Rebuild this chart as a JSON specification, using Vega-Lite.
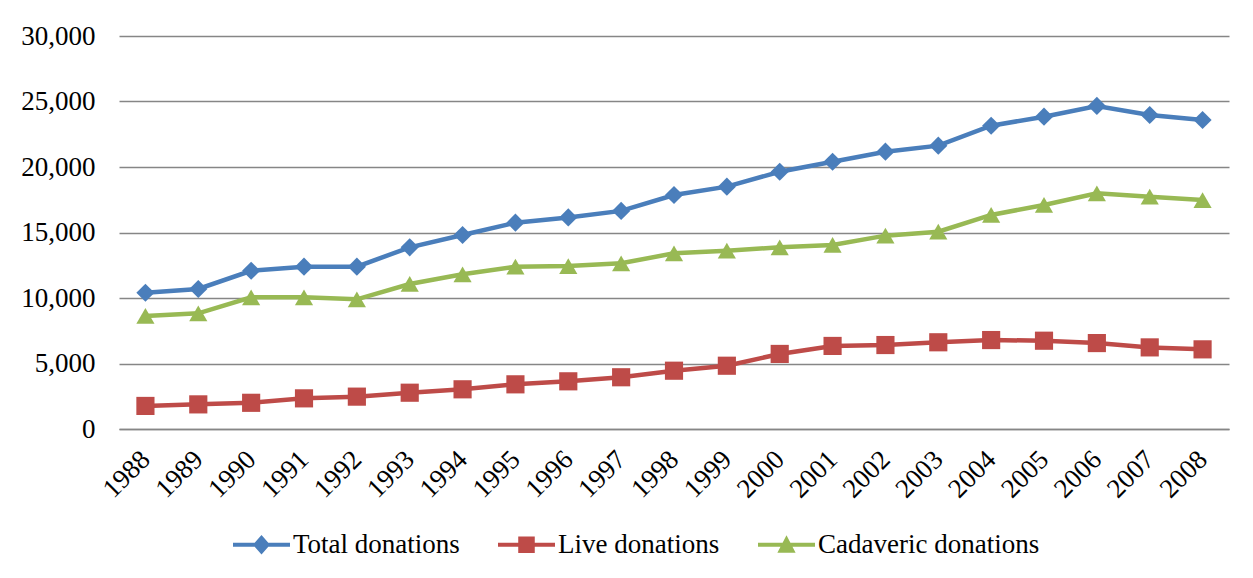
{
  "$schema": "https://vega.github.io/schema/vega-lite/v6.json",
  "width": 1110,
  "height": 393,
  "autosize": {"type": "none"},
  "padding": {"left": 119, "top": 36, "right": 24, "bottom": 149},
  "background": "white",
  "config": {
    "view": {"stroke": null},
    "font": "Liberation Serif"
  },
  "data": {
    "values": [
      {"year": "1988", "series": "Total donations", "value": 10400},
      {"year": "1989", "series": "Total donations", "value": 10690},
      {"year": "1990", "series": "Total donations", "value": 12080},
      {"year": "1991", "series": "Total donations", "value": 12390},
      {"year": "1992", "series": "Total donations", "value": 12390},
      {"year": "1993", "series": "Total donations", "value": 13870},
      {"year": "1994", "series": "Total donations", "value": 14810},
      {"year": "1995", "series": "Total donations", "value": 15750},
      {"year": "1996", "series": "Total donations", "value": 16150},
      {"year": "1997", "series": "Total donations", "value": 16650},
      {"year": "1998", "series": "Total donations", "value": 17860},
      {"year": "1999", "series": "Total donations", "value": 18500},
      {"year": "2000", "series": "Total donations", "value": 19640},
      {"year": "2001", "series": "Total donations", "value": 20400},
      {"year": "2002", "series": "Total donations", "value": 21170},
      {"year": "2003", "series": "Total donations", "value": 21630},
      {"year": "2004", "series": "Total donations", "value": 23150},
      {"year": "2005", "series": "Total donations", "value": 23840},
      {"year": "2006", "series": "Total donations", "value": 24660},
      {"year": "2007", "series": "Total donations", "value": 23970},
      {"year": "2008", "series": "Total donations", "value": 23590},
      {"year": "1988", "series": "Live donations", "value": 1760},
      {"year": "1989", "series": "Live donations", "value": 1880},
      {"year": "1990", "series": "Live donations", "value": 2000},
      {"year": "1991", "series": "Live donations", "value": 2340},
      {"year": "1992", "series": "Live donations", "value": 2470},
      {"year": "1993", "series": "Live donations", "value": 2770},
      {"year": "1994", "series": "Live donations", "value": 3030},
      {"year": "1995", "series": "Live donations", "value": 3410},
      {"year": "1996", "series": "Live donations", "value": 3640},
      {"year": "1997", "series": "Live donations", "value": 3950},
      {"year": "1998", "series": "Live donations", "value": 4450},
      {"year": "1999", "series": "Live donations", "value": 4830},
      {"year": "2000", "series": "Live donations", "value": 5730},
      {"year": "2001", "series": "Live donations", "value": 6340},
      {"year": "2002", "series": "Live donations", "value": 6410},
      {"year": "2003", "series": "Live donations", "value": 6620},
      {"year": "2004", "series": "Live donations", "value": 6790},
      {"year": "2005", "series": "Live donations", "value": 6740},
      {"year": "2006", "series": "Live donations", "value": 6560},
      {"year": "2007", "series": "Live donations", "value": 6230},
      {"year": "2008", "series": "Live donations", "value": 6080},
      {"year": "1988", "series": "Cadaveric donations", "value": 8630},
      {"year": "1989", "series": "Cadaveric donations", "value": 8830},
      {"year": "1990", "series": "Cadaveric donations", "value": 10050},
      {"year": "1991", "series": "Cadaveric donations", "value": 10050},
      {"year": "1992", "series": "Cadaveric donations", "value": 9900},
      {"year": "1993", "series": "Cadaveric donations", "value": 11070},
      {"year": "1994", "series": "Cadaveric donations", "value": 11810},
      {"year": "1995", "series": "Cadaveric donations", "value": 12390},
      {"year": "1996", "series": "Cadaveric donations", "value": 12440},
      {"year": "1997", "series": "Cadaveric donations", "value": 12650},
      {"year": "1998", "series": "Cadaveric donations", "value": 13410},
      {"year": "1999", "series": "Cadaveric donations", "value": 13610},
      {"year": "2000", "series": "Cadaveric donations", "value": 13870},
      {"year": "2001", "series": "Cadaveric donations", "value": 14050},
      {"year": "2002", "series": "Cadaveric donations", "value": 14760},
      {"year": "2003", "series": "Cadaveric donations", "value": 15060},
      {"year": "2004", "series": "Cadaveric donations", "value": 16340},
      {"year": "2005", "series": "Cadaveric donations", "value": 17100},
      {"year": "2006", "series": "Cadaveric donations", "value": 17990},
      {"year": "2007", "series": "Cadaveric donations", "value": 17730},
      {"year": "2008", "series": "Cadaveric donations", "value": 17480}
    ]
  },
  "encoding": {
    "x": {
      "field": "year",
      "type": "ordinal",
      "scale": {"type": "point", "padding": 0.5},
      "axis": {
        "title": null,
        "labelAngle": -45,
        "labelAlign": "right",
        "labelBaseline": "middle",
        "labelPadding": 26,
        "labelFont": "Liberation Serif",
        "labelFontSize": 27,
        "labelColor": "black",
        "ticks": false,
        "domain": true,
        "domainColor": "#868686",
        "domainWidth": 1.5,
        "grid": false
      }
    },
    "y": {
      "field": "value",
      "type": "quantitative",
      "scale": {"domain": [0, 30000], "nice": false},
      "axis": {
        "title": null,
        "values": [0, 5000, 10000, 15000, 20000, 25000, 30000],
        "format": ",.0f",
        "labelFont": "Liberation Serif",
        "labelFontSize": 27,
        "labelColor": "black",
        "labelPadding": 24,
        "ticks": false,
        "domain": false,
        "grid": true,
        "gridColor": "#868686",
        "gridWidth": 1.5
      }
    }
  },
  "layer": [
    {
      "mark": {"type": "line", "strokeWidth": 4.5},
      "encoding": {
        "color": {
          "field": "series",
          "type": "nominal",
          "scale": {
            "domain": ["Total donations", "Live donations", "Cadaveric donations"],
            "range": ["#4A7EBB", "#BE4B48", "#98B954"]
          },
          "legend": null
        }
      }
    },
    {
      "mark": {"type": "point", "filled": true, "opacity": 1, "size": 330},
      "encoding": {
        "color": {
          "field": "series",
          "type": "nominal",
          "scale": {
            "domain": ["Total donations", "Live donations", "Cadaveric donations"],
            "range": ["#4A7EBB", "#BE4B48", "#98B954"]
          },
          "legend": null
        },
        "shape": {
          "field": "series",
          "type": "nominal",
          "scale": {
            "domain": ["Total donations", "Live donations", "Cadaveric donations"],
            "range": ["diamond", "square", "triangle-up"]
          },
          "legend": null
        }
      }
    },
    {
      "mark": {"type": "point", "filled": true, "opacity": 0, "size": 3249},
      "encoding": {
        "color": {
          "field": "series",
          "type": "nominal",
          "scale": {
            "domain": ["Total donations", "Live donations", "Cadaveric donations"],
            "range": ["#4A7EBB", "#BE4B48", "#98B954"]
          },
          "legend": {
            "title": null,
            "orient": "none",
            "legendX": 114,
            "legendY": 480,
            "direction": "horizontal",
            "columnPadding": 38,
            "labelFont": "Liberation Serif",
            "labelFontSize": 27,
            "labelColor": "black",
            "labelOffset": 3,
            "labelLimit": 400,
            "symbolSize": 3249,
            "symbolOpacity": 1,
            "symbolStrokeWidth": 0,
            "padding": 0
          }
        },
        "shape": {
          "field": "series",
          "type": "nominal",
          "scale": {
            "domain": ["Total donations", "Live donations", "Cadaveric donations"],
            "range": [
              "M-1,-0.07L1,-0.07L1,0.07L-1,0.07Z M0,-0.34L0.3,0L0,0.34L-0.3,0Z",
              "M-1,-0.07L1,-0.07L1,0.07L-1,0.07Z M-0.29,-0.29L0.29,-0.29L0.29,0.29L-0.29,0.29Z",
              "M-1,-0.07L1,-0.07L1,0.07L-1,0.07Z M0,-0.33L0.32,0.28L-0.32,0.28Z"
            ]
          },
          "legend": {
            "title": null,
            "orient": "none",
            "legendX": 114,
            "legendY": 480,
            "direction": "horizontal",
            "columnPadding": 38,
            "labelFont": "Liberation Serif",
            "labelFontSize": 27,
            "labelColor": "black",
            "labelOffset": 3,
            "labelLimit": 400,
            "symbolSize": 3249,
            "symbolOpacity": 1,
            "symbolStrokeWidth": 0,
            "padding": 0
          }
        }
      }
    }
  ],
  "resolve": {"scale": {"shape": "independent", "color": "independent"}}
}
